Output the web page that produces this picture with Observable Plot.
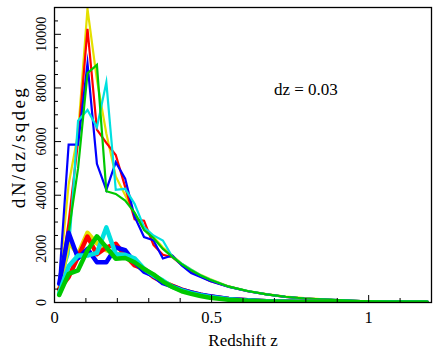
<!DOCTYPE html>
<html><head><meta charset="utf-8">
<script src="https://cdn.jsdelivr.net/npm/d3@7"></script>
<script src="https://cdn.jsdelivr.net/npm/@observablehq/plot@0.6"></script>
<style>
body{margin:0;background:#fff;}
#chart svg{display:block;}
</style></head><body>
<div id="chart"></div>
<script>
// Redshift bin centres (dz = 0.03; tail sampled more coarsely)
const zBins = [0.015,0.045,0.075,0.105,0.135,0.165,0.195,0.225,0.255,0.285,0.315,0.345,0.375,0.405,0.435,0.465,0.495,0.555,0.615,0.675,0.735,0.795,0.885,0.975,1.065,1.185];

// Upper (thin) curves, dN/dz/sqdeg
const yellowThin = [800,4400,6300,10950,8300,6300,4700,4000,3300,2800,2450,2050,1750,1450,1230,1030,880,600,430,310,220,160,95,55,30,12];
const redThin    = [600,3000,6000,10200,6450,5950,5500,4300,3100,3050,2150,1780,1690,1400,1150,980,800,590,420,300,210,150,100,50,25,10];
const blueThin   = [820,5890,5890,8920,5170,4200,5230,4620,3200,2440,2320,1640,1750,1380,1100,950,800,580,420,300,210,150,95,50,25,10];
const cyanThin   = [700,1800,6780,7180,6530,8210,4200,4240,3680,2810,2500,2310,1700,1450,1220,1020,860,590,430,300,215,150,95,50,25,10];
const greenThin  = [300,2600,5000,8550,8860,4150,4050,3800,3350,2700,2400,2000,1700,1430,1200,1010,850,590,430,300,215,150,95,50,25,10];

// Lower (thick) curves
const yellowThick = [450,2250,1800,2600,2200,1950,1820,1750,1420,1200,980,780,620,480,380,290,220,120,70,45,28,18,11,7,4,2];
const redThick    = [500,950,1700,2460,1800,2050,2190,1750,1380,1260,950,760,620,480,380,290,220,130,80,50,30,20,12,8,5,3];
const blueThick   = [700,2600,1650,2000,1500,1500,2050,1950,1500,1150,1000,720,600,470,380,290,230,130,80,50,30,20,12,8,5,3];
const cyanThick   = [350,1350,1750,1750,1850,2800,1800,1780,1650,1260,1010,820,580,450,350,270,210,120,70,45,28,18,11,7,4,2];
const greenThick  = [280,1070,1200,1950,2470,2060,1630,1660,1500,1250,1050,780,580,420,320,240,180,105,62,40,25,15,10,6,4,2];

const seriesNames  = ["run A","run B","run C","run D","run E"];
const seriesColors = ["#e4e000","#ff0000","#0000ff","#00e0e0","#00c800"];
const thinSeries  = [yellowThin, redThin, blueThin, cyanThin, greenThin];
const thickSeries = [yellowThick, redThick, blueThick, cyanThick, greenThick];

// Axis ticks
const xMajorTicks = [0, 0.5, 1];
const xMinorTicks = [0.1,0.2,0.3,0.4,0.6,0.7,0.8,0.9,1.1];
const yMajorTicks = [0,2000,4000,6000,8000,10000];
const yMinorTicks = [500,1000,1500,2500,3000,3500,4500,5000,5500,6500,7000,7500,8500,9000,9500,10500];

const xTitle = "Redshift z";
const yTitle = "dN/dz/sqdeg";
const note = [{z: 0.8, v: 7950, label: "dz = 0.03"}];

function rows(list) {
  return list.flatMap((arr, k) => zBins.map((z, i) => ({z, v: arr[i], s: seriesNames[k]})));
}
const thinRows = rows(thinSeries);
const thickRows = rows(thickSeries);

const W = 439, H = 357, mL = 54, mR = 8, mT = 7, mB = 55;
const plotW = W - mL - mR, plotH = H - mT - mB;
const serif = "Liberation Serif, Times New Roman, Tinos, DejaVu Serif, serif";

const chart = Plot.plot({
  width: W, height: H,
  marginLeft: mL, marginRight: mR, marginTop: mT, marginBottom: mB,
  x: {domain: [0, 1.2], axis: null},
  y: {domain: [0, 11000], axis: null},
  color: {type: "ordinal", domain: seriesNames, range: seriesColors},
  marks: [
    Plot.line(thinRows, {x: "z", y: "v", z: "s", stroke: "s", strokeWidth: 2.2, strokeLinejoin: "miter", strokeMiterlimit: 10, clip: true}),
    Plot.line(thickRows, {x: "z", y: "v", z: "s", stroke: "s", strokeWidth: 4.5, strokeLinejoin: "round", clip: true}),
    Plot.tickY(yMajorTicks, {y: d => d, insetRight: plotW - 7, stroke: "#000", strokeWidth: 1}),
    Plot.tickY(yMinorTicks, {y: d => d, insetRight: plotW - 4, stroke: "#000", strokeWidth: 1}),
    Plot.tickX(xMajorTicks, {x: d => d, insetTop: plotH - 7, stroke: "#000", strokeWidth: 1}),
    Plot.tickX(xMinorTicks, {x: d => d, insetTop: plotH - 4, stroke: "#000", strokeWidth: 1}),
    Plot.frame({stroke: "#000", strokeWidth: 1.3}),
    Plot.text(yMajorTicks, {y: d => d, text: d => String(d), frameAnchor: "left", rotate: -90, dx: -9, lineAnchor: "bottom", textAnchor: "middle", fontSize: 14, fontFamily: serif, fill: "#000"}),
    Plot.text(xMajorTicks, {x: d => d, text: d => String(d), frameAnchor: "bottom", dy: 9, lineAnchor: "top", fontSize: 16.5, fontFamily: serif, fill: "#000"}),
    Plot.text([xTitle], {text: d => d, frameAnchor: "bottom", dy: 38, lineAnchor: "middle", fontSize: 17, fontFamily: serif, fill: "#000"}),
    Plot.text([yTitle], {text: d => d, frameAnchor: "left", rotate: -90, dx: -36, dy: -8, textAnchor: "middle", lineAnchor: "middle", fontSize: 19, fontFamily: serif, fill: "#000"}),
    Plot.text(note, {x: "z", y: "v", text: "label", fontSize: 17, fontFamily: serif, fill: "#000"})
  ]
});
const svgSel = d3.select(chart);
svgSel.attr("font-family", serif);
svgSel.selectAll("text").attr("font-family", serif);
svgSel.selectAll("text").filter(function() { return this.textContent === yTitle; }).attr("letter-spacing", "2.4");
document.getElementById("chart").appendChild(chart);
</script></body></html>
